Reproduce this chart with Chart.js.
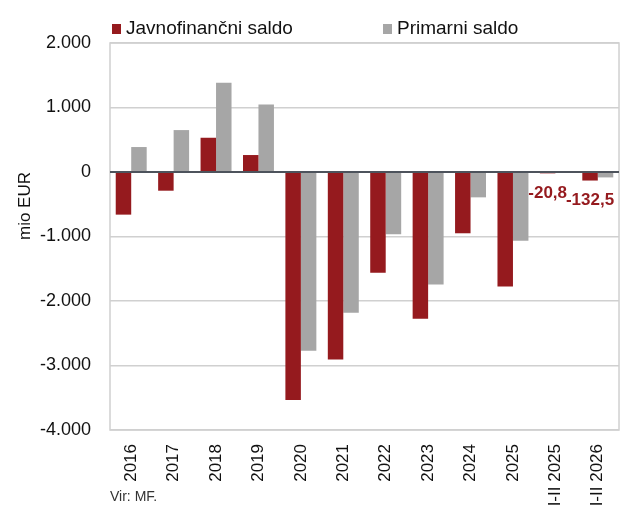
<!DOCTYPE html>
<html>
<head>
<meta charset="utf-8">
<script src="https://cdn.jsdelivr.net/npm/chart.js@4"></script>
<style>
  html, body { margin: 0; padding: 0; background: #fff; }
  .wrap { position: relative; width: 633px; height: 506px; font-family: 'Liberation Sans', Arial, sans-serif; }
  canvas { position: absolute; left: 0; top: 0; }
  .leg { position: absolute; top: 17px; font-size: 19px; color: #111; line-height: 22px; white-space: nowrap; }
  .leg i { display: inline-block; width: 9px; height: 10px; margin-right: 5px; vertical-align: 0px; }
  .src { position: absolute; left: 110px; top: 488px; font-size: 14px; color: #333; }
</style>
</head>
<body>
<div class="wrap">
  <canvas id="chart" width="633" height="506"></canvas>
  <div class="leg" style="left:112px"><i style="background:#951a1e"></i>Javnofinančni saldo</div>
  <div class="leg" style="left:383px"><i style="background:#a6a6a6"></i>Primarni saldo</div>
  <div class="src">Vir: MF.</div>
</div>
<script>
const categories = ['2016', '2017', '2018', '2019', '2020', '2021', '2022', '2023', '2024', '2025', 'I-II 2025', 'I-II 2026'];
const javnofinancni = [-661, -290, 531, 263, -3536, -2906, -1563, -2276, -950, -1776, -20.8, -132.5];
const primarni = [387, 650, 1382, 1046, -2771, -2183, -966, -1745, -393, -1064, 0, -84];
const labelled = [10, 11]; // samo zadnja dva stolpca imata oznako

const C = { red: '#951a1e', grey: '#a6a6a6', grid: '#d0d0d0', zero: '#4d535c', ink: '#111' };
const fmt = v => (v < 0 ? '-' : '') + Math.abs(v).toLocaleString('de-DE', { maximumFractionDigits: 1 });

// okvir okrog risalne površine + naslov osi + oznake
const extras = {
  id: 'extras',
  beforeDatasetsDraw(chart) {
    const { ctx, chartArea: a } = chart;
    ctx.save();
    ctx.strokeStyle = C.grid;
    ctx.lineWidth = 1.5;
    ctx.strokeRect(a.left, a.top, a.right - a.left, a.bottom - a.top);
    ctx.restore();
  },
  afterDatasetsDraw(chart) {
    const { ctx } = chart;
    ctx.save();
    // ničelna črta nad stolpci
    const y0 = chart.scales.y.getPixelForValue(0);
    ctx.strokeStyle = C.zero;
    ctx.lineWidth = 2;
    ctx.beginPath();
    ctx.moveTo(chart.chartArea.left, y0);
    ctx.lineTo(chart.chartArea.right, y0);
    ctx.stroke();
    // oznake vrednosti
    const meta = chart.getDatasetMeta(0);
    ctx.fillStyle = C.red;
    ctx.font = 'bold 17px "Liberation Sans", Arial, sans-serif';
    ctx.textAlign = 'center';
    ctx.textBaseline = 'middle';
    labelled.forEach(i => {
      const bar = meta.data[i];
      ctx.fillText(fmt(javnofinancni[i]), bar.x, Math.max(bar.y, bar.base) + 20);
    });
    // naslov osi y
    ctx.fillStyle = C.ink;
    ctx.font = '17px "Liberation Sans", Arial, sans-serif';
    ctx.translate(25, 206);
    ctx.rotate(-Math.PI / 2);
    ctx.fillText('mio EUR', 0, 0);
    ctx.restore();
  },
};

Chart.defaults.font.family = '"Liberation Sans", Arial, sans-serif';
Chart.defaults.color = C.ink;

new Chart(document.getElementById('chart'), {
  type: 'bar',
  data: {
    labels: categories,
    datasets: [
      { label: 'Javnofinančni saldo', data: javnofinancni, backgroundColor: C.red },
      { label: 'Primarni saldo', data: primarni, backgroundColor: C.grey },
    ],
  },
  options: {
    responsive: false,
    animation: false,
    layout: { padding: { top: 43, right: 14, left: 0, bottom: 0 } },
    datasets: { bar: { categoryPercentage: 0.73, barPercentage: 1 } },
    plugins: { legend: { display: false }, tooltip: { enabled: false } },
    scales: {
      x: {
        grid: { display: false },
        border: { display: false },
        ticks: { font: { size: 17 }, maxRotation: 90, minRotation: 90, padding: 6, autoSkip: false },
        afterFit: s => { s.height = 76; },
      },
      y: {
        min: -4000, max: 2000,
        border: { display: false },
        grid: { color: C.grid, lineWidth: 1.5, drawTicks: false },
        ticks: { stepSize: 1000, font: { size: 18 }, padding: 19, callback: v => fmt(v) },
        afterFit: s => { s.width = 110; },
      },
    },
  },
  plugins: [extras],
});
</script>
</body>
</html>
